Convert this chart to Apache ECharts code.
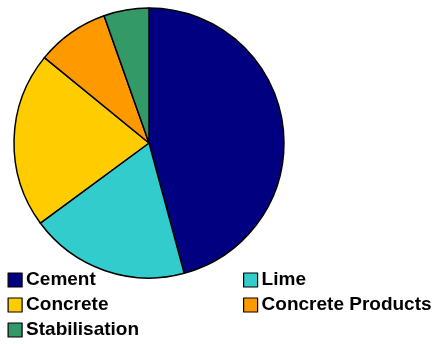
<!DOCTYPE html>
<html><head><meta charset="utf-8">
<script src="https://cdn.jsdelivr.net/npm/echarts@6/dist/echarts.min.js"></script>
<style>html,body{margin:0;padding:0;background:#fff}#c{width:437px;height:344px}</style>
</head><body><div id="c"></div>
<script>
const categories = ["Cement", "Lime", "Concrete", "Concrete Products", "Stabilisation"];
const values = [45.8, 19.1, 21.0, 8.7, 5.4];
const colors = ["#000080", "#33CCCC", "#FFCC00", "#FF9900", "#339966"];
const leftCol = ["Cement", "Concrete", "Stabilisation"];
const rightCol = ["Lime", "Concrete Products"];

const chart = echarts.init(document.getElementById('c'), null, {renderer: 'canvas'});
const legendBase = {
  orient: 'vertical',
  icon: 'rect',
  itemWidth: 14,
  itemHeight: 14,
  itemGap: 0,
  padding: 0,
  selectedMode: false,
  textStyle: {fontFamily: 'Liberation Sans, Arial, sans-serif', fontWeight: 'bold', fontSize: 19, color: '#000', lineHeight: 25, padding: [0,0,0,-1]},
  itemStyle: {borderColor: '#000', borderWidth: 1.2}
};
chart.setOption({
  animation: false,
  backgroundColor: '#fff',
  color: colors,
  legend: [
    Object.assign({}, legendBase, {data: leftCol, left: 7.5, top: 267.5}),
    Object.assign({}, legendBase, {data: rightCol, left: 243, top: 267.5})
  ],
  series: [{
    type: 'pie',
    center: [149, 143],
    radius: 135,
    startAngle: 90,
    clockwise: true,
    label: {show: false},
    labelLine: {show: false},
    emphasis: {disabled: true},
    itemStyle: {borderColor: '#000', borderWidth: 1.5},
    data: categories.map((n, i) => ({name: n, value: values[i]}))
  }]
});
</script></body></html>
